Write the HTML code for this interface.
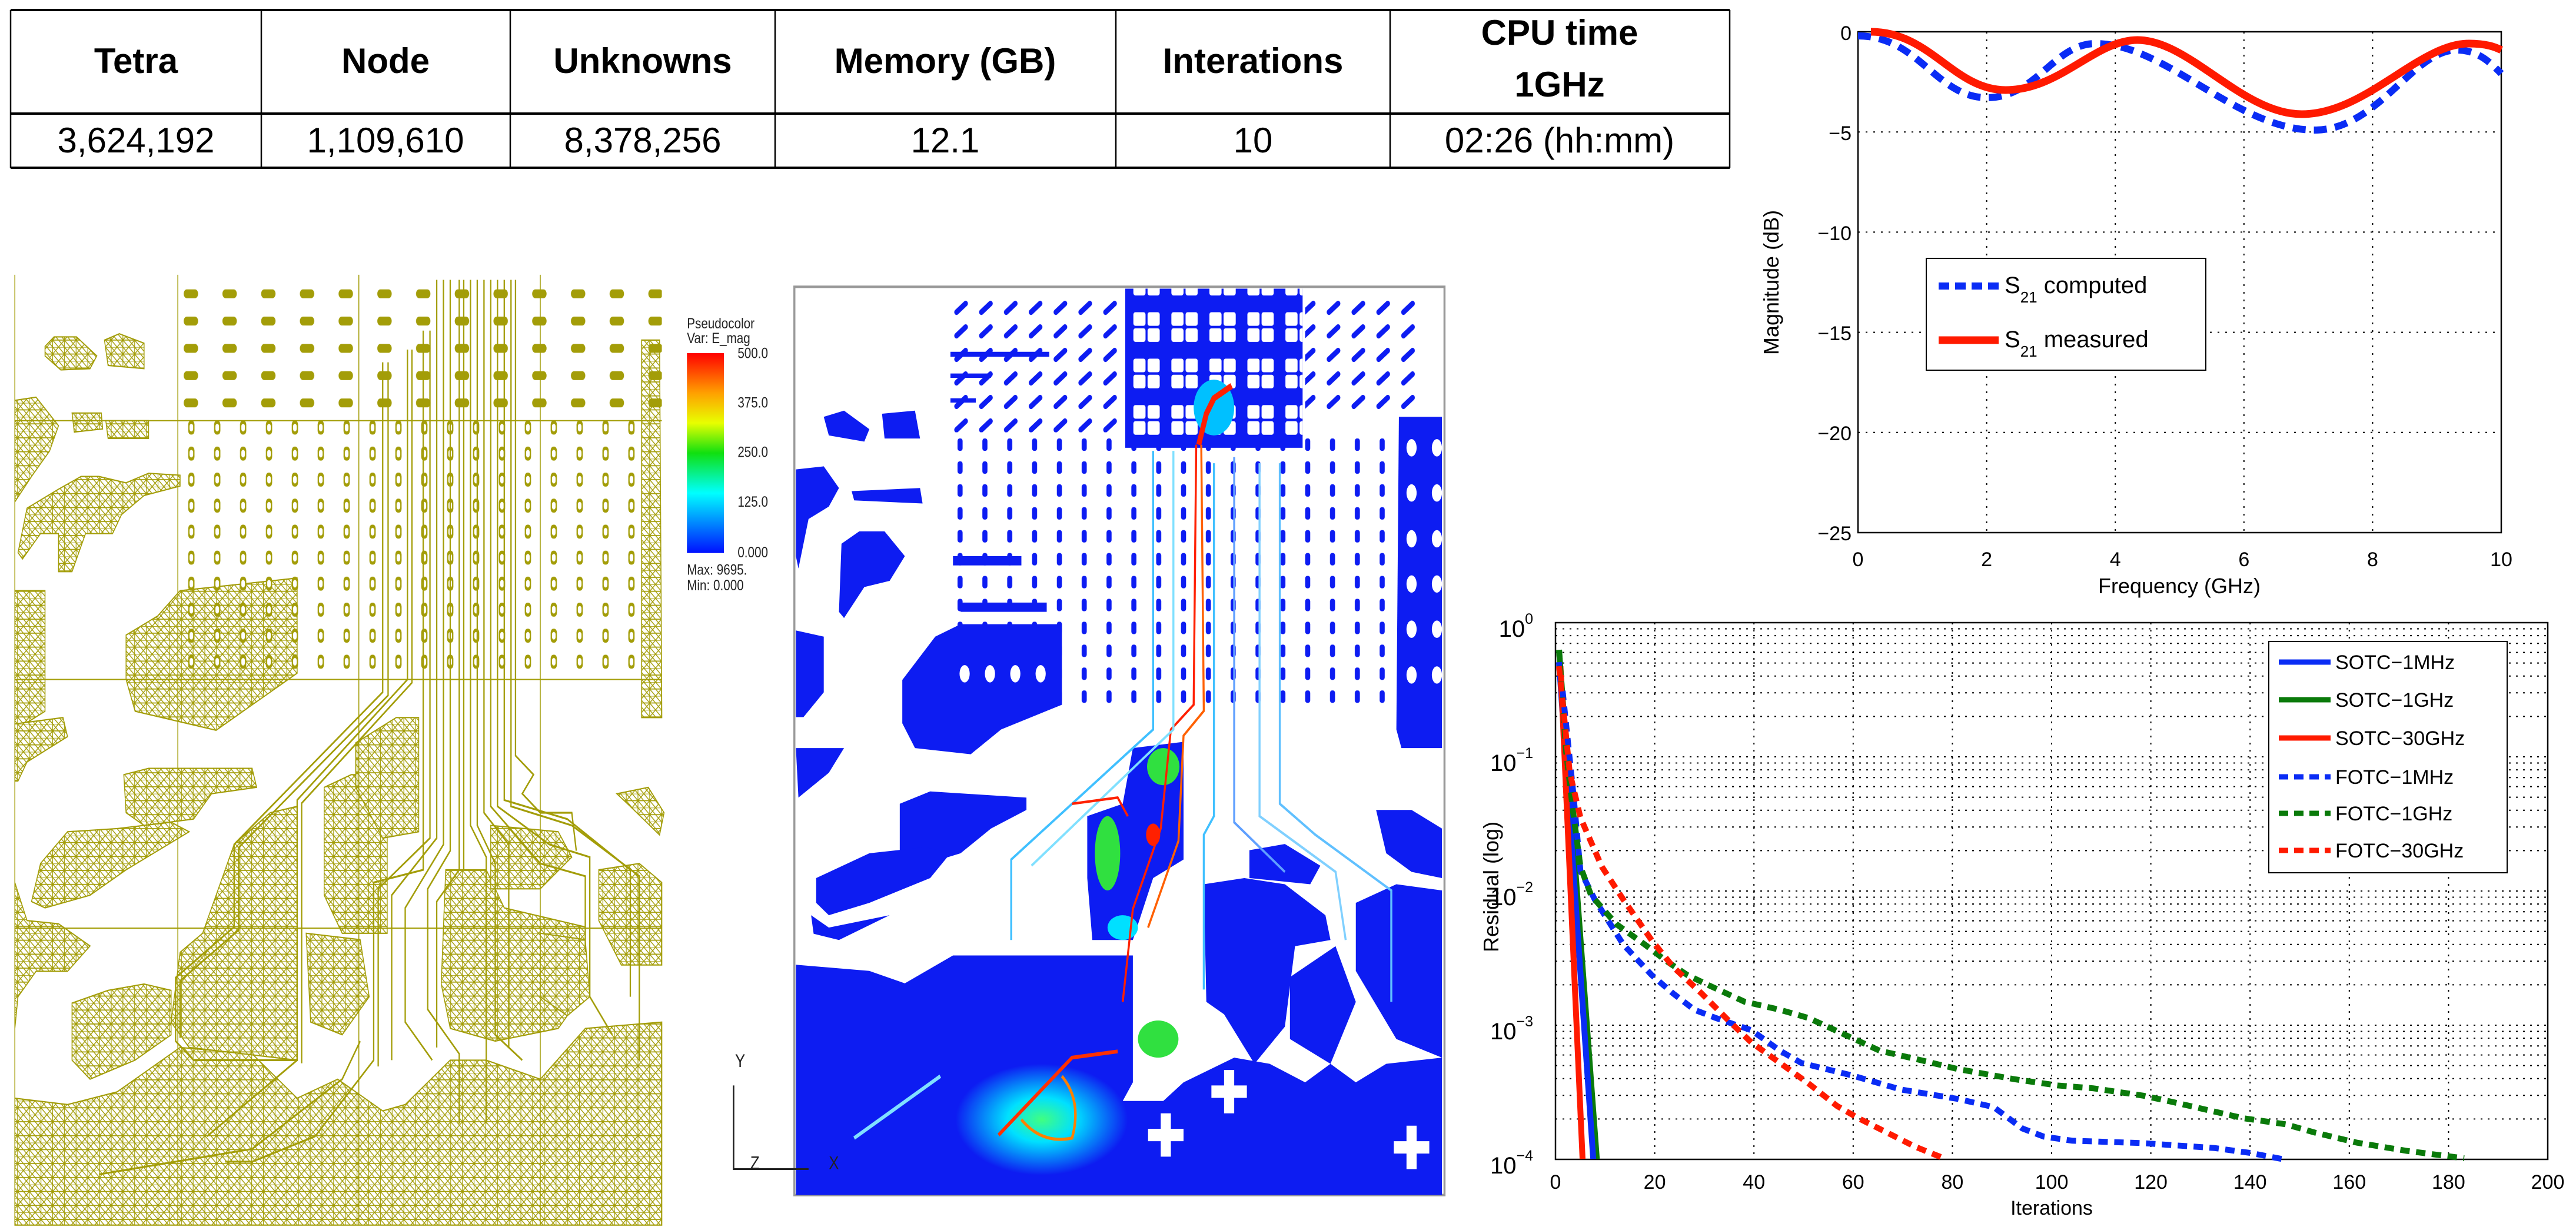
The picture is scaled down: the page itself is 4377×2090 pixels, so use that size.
<!DOCTYPE html>
<html><head><meta charset="utf-8">
<style>
html,body{margin:0;padding:0;background:#fff;width:4377px;height:2090px;overflow:hidden}
svg{display:block}
text{font-family:"Liberation Sans",sans-serif}
</style></head>
<body>
<svg width="4377" height="2090" viewBox="0 0 4377 2090" xmlns="http://www.w3.org/2000/svg">
<defs>
<pattern id="mesh" width="26" height="22" patternUnits="userSpaceOnUse">
<rect width="26" height="22" fill="#fff"/>
<path d="M0 0H26M0 11H26M0 0L13 11L0 22M26 0L13 11L26 22M13 0V22M0 11L13 22M13 0L26 11" stroke="#a39d08" stroke-width="1.6" fill="none"/>
</pattern>
<pattern id="pads" x="410" y="284" width="57.5" height="41" patternUnits="userSpaceOnUse">
<rect x="8" y="8" width="14" height="22" rx="6" fill="#a39d08"/>
<rect x="11" y="13" width="8" height="12" rx="4" fill="#fff"/>
</pattern>
<pattern id="padsTop" x="400" y="75" width="86" height="43" patternUnits="userSpaceOnUse">
<rect x="8" y="10" width="32" height="14" rx="7" fill="#a39d08"/>
</pattern>
<pattern id="bpads" x="540" y="280" width="49" height="37" patternUnits="userSpaceOnUse">
<rect x="14" y="10" width="10" height="20" rx="4" fill="#0d1cf2"/>
</pattern>
<pattern id="bslant" x="540" y="60" width="49" height="38" patternUnits="userSpaceOnUse">
<path d="M12 26L30 12" stroke="#0d1cf2" stroke-width="9" stroke-linecap="round"/>
</pattern>
<pattern id="bsq" x="895" y="80" width="75" height="75" patternUnits="userSpaceOnUse">
<rect x="6" y="6" width="24" height="22" rx="4" fill="#fff"/>
<rect x="34" y="6" width="24" height="22" rx="4" fill="#fff"/>
<rect x="6" y="32" width="24" height="22" rx="4" fill="#fff"/>
<rect x="34" y="32" width="24" height="22" rx="4" fill="#fff"/>
</pattern>
<linearGradient id="cbar" x1="0" y1="0" x2="0" y2="1">
<stop offset="0" stop-color="#ff0000"/><stop offset="0.2" stop-color="#ffa000"/>
<stop offset="0.35" stop-color="#e8ff00"/><stop offset="0.5" stop-color="#10e010"/>
<stop offset="0.7" stop-color="#00ffff"/><stop offset="1" stop-color="#0010ff"/>
</linearGradient>
<radialGradient id="hot" cx="0.5" cy="0.5" r="0.5">
<stop offset="0" stop-color="#40ff80"/><stop offset="0.4" stop-color="#00e0ff"/><stop offset="1" stop-color="#0d1cf2"/>
</radialGradient>
</defs>

<!-- TABLE -->
<g stroke="#000" fill="none">
<path d="M18 17H2939M18 193H2939M18 285H2939" stroke-width="4"/>
<path d="M18 17V285M444 17V285M867 17V285M1317 17V285M1896 17V285M2362 17V285M2939 17V285" stroke-width="2.5"/>
</g>
<g font-size="60" font-weight="bold" text-anchor="middle" fill="#000">
<text x="231" y="124">Tetra</text>
<text x="655" y="124">Node</text>
<text x="1092" y="124">Unknowns</text>
<text x="1606" y="124">Memory (GB)</text>
<text x="2129" y="124">Interations</text>
<text x="2650" y="76">CPU time</text>
<text x="2650" y="164">1GHz</text>
</g>
<g font-size="60" text-anchor="middle" fill="#000">
<text x="231" y="259">3,624,192</text>
<text x="655" y="259">1,109,610</text>
<text x="1092" y="259">8,378,256</text>
<text x="1606" y="259">12.1</text>
<text x="2129" y="259">10</text>
<text x="2650" y="259">02:26 (hh:mm)</text>
</g>

<!-- TOP CHART -->
<g stroke="#000" stroke-width="2" stroke-dasharray="3,10" fill="none">
<path d="M3375.6 54V905M3594.2 54V905M3812.8 54V905M4031.4 54V905"/>
<path d="M3157 224.2H4250M3157 394.4H4250M3157 564.6H4250M3157 734.8H4250"/>
</g>
<rect x="3157" y="54" width="1093" height="851" fill="none" stroke="#000" stroke-width="2.5"/>
<path d="M3157 61 C3260 61 3290 166 3376 166 C3460 166 3490 74 3561 74 C3680 74 3800 221 3933 221 C4040 221 4100 85 4174 85 C4210 85 4230 105 4250 125" fill="none" stroke="#0a2cf5" stroke-width="12" stroke-dasharray="22,14"/>
<path d="M3179 54 C3280 54 3320 153 3408 153 C3500 153 3560 68 3632 68 C3720 68 3810 194 3911 194 C4020 194 4110 74 4195 74 C4225 74 4240 80 4250 85" fill="none" stroke="#ff1a00" stroke-width="13"/>
<g font-size="34" fill="#000" text-anchor="end">
<text x="3146" y="68">0</text><text x="3146" y="238">−5</text><text x="3146" y="408">−10</text>
<text x="3146" y="578">−15</text><text x="3146" y="748">−20</text><text x="3146" y="918">−25</text>
</g>
<g font-size="34" fill="#000" text-anchor="middle">
<text x="3157" y="962">0</text><text x="3375.6" y="962">2</text><text x="3594.2" y="962">4</text>
<text x="3812.8" y="962">6</text><text x="4031.4" y="962">8</text><text x="4250" y="962">10</text>
<text x="3703" y="1008" font-size="36">Frequency (GHz)</text>
<text transform="translate(3022,480) rotate(-90)" font-size="36">Magnitude (dB)</text>
</g>
<rect x="3273" y="439" width="475" height="190" fill="#fff" stroke="#000" stroke-width="2"/>
<path d="M3294 486H3396" stroke="#0a2cf5" stroke-width="12" stroke-dasharray="18,10"/>
<path d="M3294 578H3396" stroke="#ff1a00" stroke-width="13"/>
<g font-size="40" fill="#000">
<text x="3406" y="498">S<tspan font-size="26" dy="16">21</tspan><tspan dy="-16"> computed</tspan></text>
<text x="3406" y="590">S<tspan font-size="26" dy="16">21</tspan><tspan dy="-16"> measured</tspan></text>
</g>

<!-- BOTTOM CHART -->
<g stroke="#000" stroke-width="2" stroke-dasharray="3,9" fill="none">
<path d="M2811.6 1058V1970M2980.2 1058V1970M3148.8 1058V1970M3317.4 1058V1970M3486 1058V1970M3654.6 1058V1970M3823.2 1058V1970M3991.8 1058V1970M4160.4 1058V1970"/>
<path d="M2643 1286H4329M2643 1514H4329M2643 1742H4329
M2643 1901.4H4329M2643 1861.2H4329M2643 1832.7H4329M2643 1810.6H4329M2643 1792.6H4329M2643 1777.3H4329M2643 1764.1H4329M2643 1752.5H4329
M2643 1673.4H4329M2643 1633.2H4329M2643 1604.7H4329M2643 1582.6H4329M2643 1564.6H4329M2643 1549.3H4329M2643 1536.1H4329M2643 1524.5H4329
M2643 1445.4H4329M2643 1405.2H4329M2643 1376.7H4329M2643 1354.6H4329M2643 1336.6H4329M2643 1321.3H4329M2643 1308.1H4329M2643 1296.5H4329
M2643 1217.4H4329M2643 1177.2H4329M2643 1148.7H4329M2643 1126.6H4329M2643 1108.6H4329M2643 1093.3H4329M2643 1080.1H4329M2643 1068.5H4329"/>
</g>
<rect x="2643" y="1058" width="1686" height="912" fill="none" stroke="#000" stroke-width="2.5"/>
<g transform="translate(2479.5,1000) scale(1.211,0.695)" fill="none">
<path d="M140 150L193 1395" stroke="#0a7a0a" stroke-width="10" vector-effect="non-scaling-stroke"/>
<path d="M140 180L188 1395" stroke="#0a2cf5" stroke-width="10" vector-effect="non-scaling-stroke"/>
<path d="M142 190L173 1395" stroke="#ff1a00" stroke-width="10" vector-effect="non-scaling-stroke"/>
<path d="M145 250L160 500L170 690L190 760L230 870L270 945L300 990L330 1030L360 1050L410 1080L450 1130L480 1160L550 1190L620 1225L700 1248L750 1268L790 1320L820 1340L860 1350L960 1356L1060 1368L1110 1380L1155 1395" stroke="#0a2cf5" stroke-width="10" stroke-dasharray="16,11" vector-effect="non-scaling-stroke"/>
<path d="M140 150L150 400L160 550L170 680L185 750L220 820L260 870L290 910L320 945L350 970L400 1010L450 1030L490 1050L540 1090L590 1130L640 1150L700 1175L780 1200L840 1215L890 1222L960 1240L1000 1255L1100 1295L1160 1310L1200 1330L1260 1355L1330 1375L1410 1393" stroke="#0a7a0a" stroke-width="10" stroke-dasharray="16,11" vector-effect="non-scaling-stroke"/>
<path d="M140 190L155 450L170 560L200 680L230 760L270 860L300 925L340 990L380 1060L410 1110L450 1160L490 1210L530 1265L560 1295L600 1330L640 1365L680 1393" stroke="#ff1a00" stroke-width="10" stroke-dasharray="16,11" vector-effect="non-scaling-stroke"/>
</g>
<g font-size="40" fill="#000" text-anchor="end">
<text x="2605" y="1082">10<tspan font-size="25" dy="-22">0</tspan></text>
<text x="2605" y="1310">10<tspan font-size="25" dy="-22">−1</tspan></text>
<text x="2605" y="1538">10<tspan font-size="25" dy="-22">−2</tspan></text>
<text x="2605" y="1766">10<tspan font-size="25" dy="-22">−3</tspan></text>
<text x="2605" y="1994">10<tspan font-size="25" dy="-22">−4</tspan></text>
</g>
<g font-size="34" fill="#000" text-anchor="middle">
<text x="2643" y="2020">0</text><text x="2811.6" y="2020">20</text><text x="2980.2" y="2020">40</text>
<text x="3148.8" y="2020">60</text><text x="3317.4" y="2020">80</text><text x="3486" y="2020">100</text>
<text x="3654.6" y="2020">120</text><text x="3823.2" y="2020">140</text><text x="3991.8" y="2020">160</text>
<text x="4160.4" y="2020">180</text><text x="4329" y="2020">200</text>
<text x="3486" y="2064">Iterations</text>
<text transform="translate(2546,1507) rotate(-90)" font-size="36">Residual (log)</text>
</g>
<rect x="3855" y="1090" width="405" height="393" fill="#fff" stroke="#000" stroke-width="2"/>
<g stroke-width="9">
<path d="M3872 1125H3960" stroke="#0a2cf5"/>
<path d="M3872 1189H3960" stroke="#0a7a0a"/>
<path d="M3872 1254H3960" stroke="#ff1a00"/>
<path d="M3872 1320H3960" stroke="#0a2cf5" stroke-dasharray="16,10"/>
<path d="M3872 1382H3960" stroke="#0a7a0a" stroke-dasharray="16,10"/>
<path d="M3872 1445H3960" stroke="#ff1a00" stroke-dasharray="16,10"/>
</g>
<g font-size="34" fill="#000">
<text x="3968" y="1137">SOTC−1MHz</text><text x="3968" y="1201">SOTC−1GHz</text><text x="3968" y="1266">SOTC−30GHz</text>
<text x="3968" y="1332">FOTC−1MHz</text><text x="3968" y="1394">FOTC−1GHz</text><text x="3968" y="1457">FOTC−30GHz</text>
</g>

<!-- MESH PANEL -->
<g transform="translate(0,400) scale(0.765,1.078)">
<g fill="url(#mesh)" stroke="#a39d08" stroke-width="2">
<path d="M100 175L120 160L170 160L215 190L200 210L135 212L100 190Z"/>
<path d="M232 165L265 155L320 170L320 210L240 205Z"/>
<path d="M33 260L80 255L130 300L110 340L70 380L33 420Z"/>
<path d="M160 280L225 280L228 305L165 310Z"/>
<path d="M235 292L330 292L330 320L240 320Z"/>
<path d="M40 500L60 430L130 400L180 380L220 380L280 390L330 375L400 378L400 395L320 410L270 440L250 470L190 470L160 530L130 530L130 470L90 470L50 510Z"/>
<path d="M33 560L100 560L100 750L33 780Z"/>
<path d="M280 630L350 600L400 560L660 540L660 690L560 740L480 780L300 750L280 700Z"/>
<path d="M33 770L140 760L150 790L60 830L40 860L33 860Z"/>
<path d="M275 850L330 840L560 840L570 870L470 880L430 920L320 930L280 910Z"/>
<path d="M90 990L150 940L260 935L380 925L420 940L280 1000L200 1040L100 1060L70 1050Z"/>
<path d="M33 1020L60 1080L130 1085L200 1120L150 1160L80 1160L40 1200L33 1250Z"/>
<path d="M33 1360L150 1370L260 1350L400 1280L560 1290L660 1360L750 1330L850 1380L900 1370L1000 1300L1080 1300L1200 1330L1300 1250L1470 1240L1470 1560L33 1560Z"/>
<path d="M160 1210L240 1190L320 1180L380 1190L380 1260L300 1300L200 1330L160 1300Z"/>
<path d="M400 1130L450 1100L520 960L600 910L660 900L660 1300L420 1280L380 1240Z"/>
<path d="M720 870L780 850L860 850L860 1100L760 1100L720 1040Z"/>
<path d="M790 800L880 760L930 760L930 940L850 950L790 870Z"/>
<path d="M990 1000L1080 1000L1120 1060L1300 1090L1300 1190L1240 1250L1100 1270L1000 1250L980 1180Z"/>
<path d="M1090 930L1240 940L1270 980L1200 1030L1090 1030Z"/>
<path d="M1370 880L1440 870L1475 910L1465 945L1400 900Z"/>
<path d="M1330 1000L1420 990L1470 1020L1470 1150L1380 1150L1330 1080Z"/>
<path d="M1200 1100L1300 1110L1310 1200L1260 1230L1200 1200Z"/>
<path d="M1425 165L1465 165L1470 760L1425 760Z"/>
<path d="M680 1100L800 1110L820 1200L760 1260L690 1240Z"/>
</g>
<rect x="410" y="284" width="1000" height="400" fill="url(#pads)"/>
<rect x="390" y="75" width="1080" height="205" fill="url(#padsTop)"/>
<g stroke="#a39d08" stroke-width="2" fill="none">
<path d="M33 62V1560M395 62V1560M797 62V1560M1200 62V1560M33 292H1470M33 700H1470M33 1092H1470"/>
</g>
<g stroke="#a39d08" stroke-width="3" fill="none">
<path d="M850 200V720L520 960V1090L390 1170V1270L430 1300H660V1110"/>
<path d="M862 200V725L530 965V1095L400 1175V1265"/>
<path d="M905 180V700L660 890V1300L460 1420"/>
<path d="M915 180V705L670 895V1305"/>
<path d="M940 150V1000L830 1020V1300L700 1420"/>
<path d="M955 150V950L840 1030V1310"/>
<path d="M970 70V950L870 1040V1300"/>
<path d="M985 70V960L900 1060V1240L960 1300"/>
<path d="M1000 70V970L950 1030V1220L1020 1290V1400"/>
<path d="M1020 70V1000L970 1050V1280"/>
<path d="M1030 70V1000"/>
<path d="M1045 70V930L1080 980V1400"/>
<path d="M1060 70V930L1100 990V1260L1160 1300"/>
<path d="M1075 70V910L1130 960V1280"/>
<path d="M1090 70V900L1200 990L1300 1010V1130"/>
<path d="M1105 70V900L1220 960L1310 980V1200L1360 1260"/>
<path d="M1120 70V890L1260 920L1400 1000V1200"/>
<path d="M1135 70V900L1270 930L1420 1010V1300"/>
<path d="M1145 70V820L1185 850L1160 880L1200 910L1270 910L1280 970"/>
<path d="M800 1270L760 1330L560 1440L220 1480"/>
<path d="M700 1420L560 1460L500 1460"/>
</g>
</g>

<!-- MIDDLE FIELD PANEL -->
<g transform="translate(1150,440) scale(0.861,1.052)">
<rect x="232" y="45" width="1283" height="1467" fill="#fff" stroke="#999" stroke-width="4"/>
<rect x="540" y="280" width="870" height="450" fill="url(#bpads)"/>
<rect x="540" y="60" width="345" height="220" fill="url(#bslant)"/>
<rect x="1240" y="60" width="230" height="190" fill="url(#bslant)"/>
<g fill="#0d1cf2">
<path d="M885 48H1235V305H885Z"/>
<path d="M1425 255H1510V790H1430L1420 760Z"/>
<path d="M290 255L330 245L380 275L370 295L300 285Z"/>
<path d="M405 250L470 245L480 290L410 290Z"/>
<path d="M235 340L290 335L320 370L300 400L260 420L240 500L235 480Z"/>
<path d="M325 460L360 440L410 440L450 480L420 520L370 530L330 580L320 570Z"/>
<path d="M345 375L480 370L485 395L350 390Z"/>
<path d="M445 680L510 610L560 590L760 590L760 720L640 760L580 800L470 790L445 750Z"/>
<path d="M235 600L290 610L290 700L250 740L235 740Z"/>
<path d="M235 790L330 790L300 830L240 870Z"/>
<path d="M440 880L500 860L690 870L690 890L620 920L560 960L480 980L440 960Z"/>
<path d="M275 1000L380 960L490 950L540 960L500 1000L380 1040L300 1060L275 1040Z"/>
<path d="M265 1060L300 1080L420 1060L320 1100L270 1090Z"/>
<path d="M235 1140L380 1150L450 1170L545 1125H900V1330L880 1360H960L1000 1330L1100 1290L1170 1300L1240 1330L1290 1300L1340 1330L1400 1300L1510 1290V1512H235Z"/>
<path d="M1040 1010L1120 1000L1200 1010L1280 1060L1290 1100L1220 1110L1200 1240L1140 1300L1080 1220L1045 1200Z"/>
<path d="M1130 955L1200 945L1270 980L1250 1010L1130 1000Z"/>
<path d="M1380 890L1450 890L1510 920V1000L1450 990L1400 960Z"/>
<path d="M1340 1040L1420 1010L1510 1020V1290L1420 1260L1340 1150Z"/>
<path d="M1210 1160L1300 1110L1340 1200L1290 1300L1210 1260Z"/>
<path d="M810 900L880 880L900 790L1000 780V970L940 1000L900 1100L820 1100L810 1000Z"/>
<path d="M540 150H735V158H540ZM540 185H620V192H540ZM540 225H590V232H540ZM545 480H680V495H545ZM560 555H730V570H560Z"/>
</g>
<rect x="885" y="48" width="350" height="257" fill="url(#bsq)"/>
<g fill="#fff">
<ellipse cx="1450" cy="305" rx="10" ry="14"/><ellipse cx="1500" cy="305" rx="10" ry="14"/>
<ellipse cx="1450" cy="378" rx="10" ry="14"/><ellipse cx="1500" cy="378" rx="10" ry="14"/>
<ellipse cx="1450" cy="452" rx="10" ry="14"/><ellipse cx="1500" cy="452" rx="10" ry="14"/>
<ellipse cx="1450" cy="525" rx="10" ry="14"/><ellipse cx="1500" cy="525" rx="10" ry="14"/>
<ellipse cx="1450" cy="598" rx="10" ry="14"/><ellipse cx="1500" cy="598" rx="10" ry="14"/>
<ellipse cx="1450" cy="672" rx="10" ry="14"/><ellipse cx="1500" cy="672" rx="10" ry="14"/>
<ellipse cx="568" cy="670" rx="10" ry="14"/><ellipse cx="618" cy="670" rx="10" ry="14"/>
<ellipse cx="668" cy="670" rx="10" ry="14"/><ellipse cx="718" cy="670" rx="10" ry="14"/>
<path d="M1080 1310h20v25h25v20h-25v25h-20v-25h-25v-20h25z"/>
<path d="M955 1380h20v25h25v20h-25v25h-20v-25h-25v-20h25z"/>
<path d="M1440 1400h20v25h25v20h-25v25h-20v-25h-25v-20h25z"/>
</g>
<ellipse cx="720" cy="1390" rx="170" ry="90" fill="url(#hot)"/>
<ellipse cx="960" cy="820" rx="32" ry="30" fill="#30e040"/>
<ellipse cx="850" cy="960" rx="25" ry="60" fill="#30e040"/>
<ellipse cx="880" cy="1080" rx="30" ry="20" fill="#00e0ff"/>
<ellipse cx="940" cy="930" rx="14" ry="18" fill="#ff2000"/>
<ellipse cx="950" cy="1260" rx="40" ry="30" fill="#30e040"/>
<ellipse cx="1060" cy="240" rx="40" ry="45" fill="#00c0ff"/>
<g fill="none" stroke-width="4">
<path d="M1025 300L1020 720L975 760L955 920L900 1050L880 1200" stroke="#ff2000"/>
<path d="M1035 300L1040 730L1000 770L990 940L930 1080" stroke="#ff6000"/>
<path d="M1030 300L1045 250L1060 225L1095 205" stroke="#ff2000" stroke-width="10"/>
<path d="M940 310V760L660 970V1100" stroke="#40c0ff"/>
<path d="M980 310V760L700 980" stroke="#80e0ff"/>
<path d="M1060 330V900L1040 930V1180" stroke="#40c0ff"/>
<path d="M1100 320V910L1200 990" stroke="#60a0ff"/>
<path d="M1150 330V900L1300 990L1320 1100" stroke="#80d0ff"/>
<path d="M1190 330V880L1260 930L1410 1020V1200" stroke="#60c0ff"/>
<path d="M635 1415L780 1290L870 1280" stroke="#ff3000" stroke-width="6"/>
<path d="M680 1390Q720 1430 780 1420Q800 1360 760 1320" stroke="#ff8000" stroke-width="5"/>
<path d="M780 880L870 870L890 900" stroke="#ff2000"/>
<path d="M350 1420L520 1320" stroke="#80e0ff" stroke-width="6"/>
</g>
<rect x="20" y="152" width="73" height="323" fill="url(#cbar)"/>
<g fill="#222" font-size="24">
<text x="20" y="112">Pseudocolor</text>
<text x="20" y="136">Var: E_mag</text>
<text x="120" y="160">500.0</text><text x="120" y="240">375.0</text>
<text x="120" y="320">250.0</text><text x="120" y="400">125.0</text>
<text x="120" y="482">0.000</text>
<text x="20" y="510">Max: 9695.</text><text x="20" y="535">Min: 0.000</text>
<text x="115" y="1305" font-size="30">Y</text>
<text x="145" y="1470" font-size="30">Z</text>
<text x="300" y="1470" font-size="30">X</text>
</g>
<path d="M112 1335V1470H260" stroke="#222" stroke-width="3" fill="none"/>
</g>
</svg>
</body></html>
